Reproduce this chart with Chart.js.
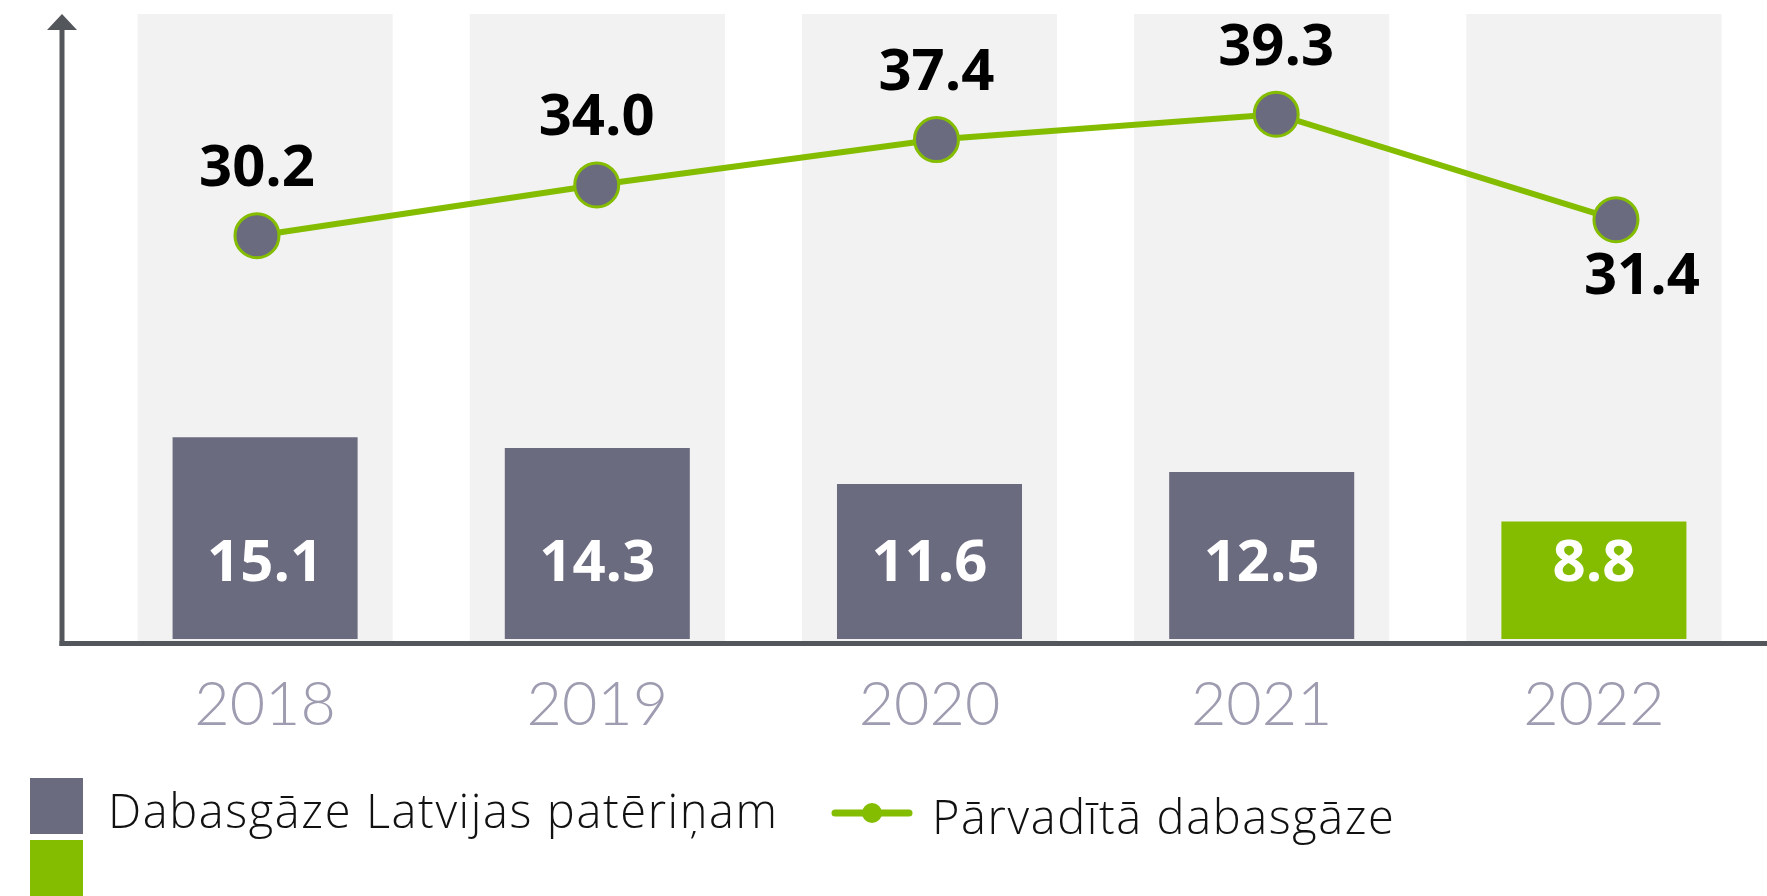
<!DOCTYPE html>
<html>
<head>
<meta charset="utf-8">
<script src="https://cdn.jsdelivr.net/npm/chart.js@4"></script>
<style>
  html, body { margin: 0; padding: 0; background: #fff; overflow: hidden; }
</style>
</head>
<body>
<canvas id="chart" width="1767" height="896"></canvas>
<script>
// --- Data ---
const years = ['2018', '2019', '2020', '2021', '2022'];
const consumption = [15.1, 14.3, 11.6, 12.5, 8.8];
const transported = [30.2, 34.0, 37.4, 39.3, 31.4];
const consumptionLabel = 'Dabasgāze Latvijas patēriņam';
const transportedLabel = 'Pārvadītā dabasgāze';

// --- Colours ---
const GREY = '#6b6b80';
const GREEN = '#84bd00';
const BAND = '#f2f2f2';
const AXIS = '#53565a';
const TICK = '#9d9cb0';

const barColors = consumption.map((v, i) => i === consumption.length - 1 ? GREEN : GREY);

// background column behind each year
const bandsPlugin = {
    id: 'bands',
    beforeDatasetsDraw(chart) {
        const { ctx, chartArea, scales } = chart;
        const x = scales.x;
        const w = (chartArea.right - chartArea.left) / years.length * 0.768;
        ctx.save();
        ctx.fillStyle = BAND;
        years.forEach((y, i) => {
            const cx = x.getPixelForValue(i);
            ctx.fillRect(cx - w / 2, chartArea.top, w, chartArea.bottom - chartArea.top + 3);
        });
        ctx.restore();
    }
};

// hand drawn axes with arrow on y
const axesPlugin = {
    id: 'axes',
    afterDatasetsDraw(chart) {
        const { ctx, chartArea, width } = chart;
        const ax = chartArea.left - 37;
        const ay = chartArea.bottom + 4.5;
        ctx.save();
        ctx.strokeStyle = AXIS;
        ctx.fillStyle = AXIS;
        ctx.lineWidth = 5;
        ctx.beginPath();
        ctx.moveTo(ax, chartArea.top + 14);
        ctx.lineTo(ax, ay + 2.5);
        ctx.stroke();
        ctx.beginPath();
        ctx.moveTo(ax - 2.5, ay);
        ctx.lineTo(width, ay);
        ctx.stroke();
        ctx.beginPath();
        ctx.moveTo(ax, chartArea.top);
        ctx.lineTo(ax + 15, chartArea.top + 16);
        ctx.lineTo(ax - 15, chartArea.top + 16);
        ctx.closePath();
        ctx.fill();
        ctx.restore();
    }
};

// value labels
const labelsPlugin = {
    id: 'valueLabels',
    afterDatasetsDraw(chart) {
        const { ctx } = chart;
        const base = chart.scales.y.getPixelForValue(0);
        ctx.save();
        ctx.font = '700 58px "Open Sans"';
        ctx.textAlign = 'center';
        ctx.textBaseline = 'middle';

        chart.getDatasetMeta(0).data.forEach((bar, i) => {
            ctx.fillStyle = '#ffffff';
            ctx.fillText(consumption[i].toFixed(1), bar.x, base - 75);
        });

        chart.getDatasetMeta(1).data.forEach((pt, i) => {
            ctx.fillStyle = '#000000';
            if (i === transported.length - 1) {
                ctx.fillText(transported[i].toFixed(1), pt.x + 26, pt.y + 58);
            } else {
                ctx.fillText(transported[i].toFixed(1), pt.x, pt.y - 66);
            }
        });
        ctx.restore();
    }
};

// legend at the bottom
const legendPlugin = {
    id: 'customLegend',
    afterDraw(chart) {
        const { ctx } = chart;
        ctx.save();
        ctx.fillStyle = GREY;
        ctx.fillRect(30, 778, 53, 56);
        ctx.fillStyle = GREEN;
        ctx.fillRect(30, 840, 53, 56);

        ctx.font = '300 47px "Open Sans"';
        ctx.letterSpacing = '1.6px';
        ctx.fillStyle = '#111';
        ctx.textAlign = 'left';
        ctx.textBaseline = 'alphabetic';
        ctx.fillText(consumptionLabel, 108, 828);

        ctx.strokeStyle = GREEN;
        ctx.lineWidth = 7;
        ctx.lineCap = 'round';
        ctx.beginPath();
        ctx.moveTo(835, 813);
        ctx.lineTo(909, 813);
        ctx.stroke();
        ctx.fillStyle = GREEN;
        ctx.beginPath();
        ctx.arc(872, 813, 10, 0, Math.PI * 2);
        ctx.fill();

        ctx.fillStyle = '#111';
        ctx.fillText(transportedLabel, 932, 834);
        ctx.restore();
    }
};

const ctx = document.getElementById('chart').getContext('2d');
new Chart(ctx, {
    data: {
        labels: years,
        datasets: [
            {
                type: 'bar',
                label: consumptionLabel,
                data: consumption,
                backgroundColor: barColors,
                barPercentage: 0.557,
                categoryPercentage: 1,
                grouped: false,
                order: 2
            },
            {
                type: 'line',
                label: transportedLabel,
                data: transported.map((v, i) => ({ x: i, y: v })),
                xAxisID: 'xl',
                borderColor: GREEN,
                borderWidth: 6,
                pointRadius: 22,
                pointHoverRadius: 22,
                pointBackgroundColor: GREY,
                pointBorderColor: GREEN,
                pointBorderWidth: 3,
                tension: 0,
                clip: false,
                order: 1
            }
        ]
    },
    options: {
        responsive: false,
        animation: false,
        layout: { autoPadding: false, padding: { left: 99, right: 7, top: 14, bottom: 159 } },
        scales: {
            x: {
                type: 'category',
                grid: { display: false },
                border: { display: false },
                ticks: {
                    color: TICK,
                    padding: 22,
                    font: { family: 'Lato', weight: 300, size: 61 }
                },
                afterFit(scale) { scale.height = 98; }
            },
            xl: {
                type: 'linear',
                display: false,
                min: -0.465,
                max: 4.424
            },
            y: {
                display: false,
                min: 0,
                max: 46.8
            }
        },
        plugins: {
            legend: { display: false },
            tooltip: { enabled: false }
        }
    },
    plugins: [bandsPlugin, axesPlugin, labelsPlugin, legendPlugin]
});
</script>
</body>
</html>
